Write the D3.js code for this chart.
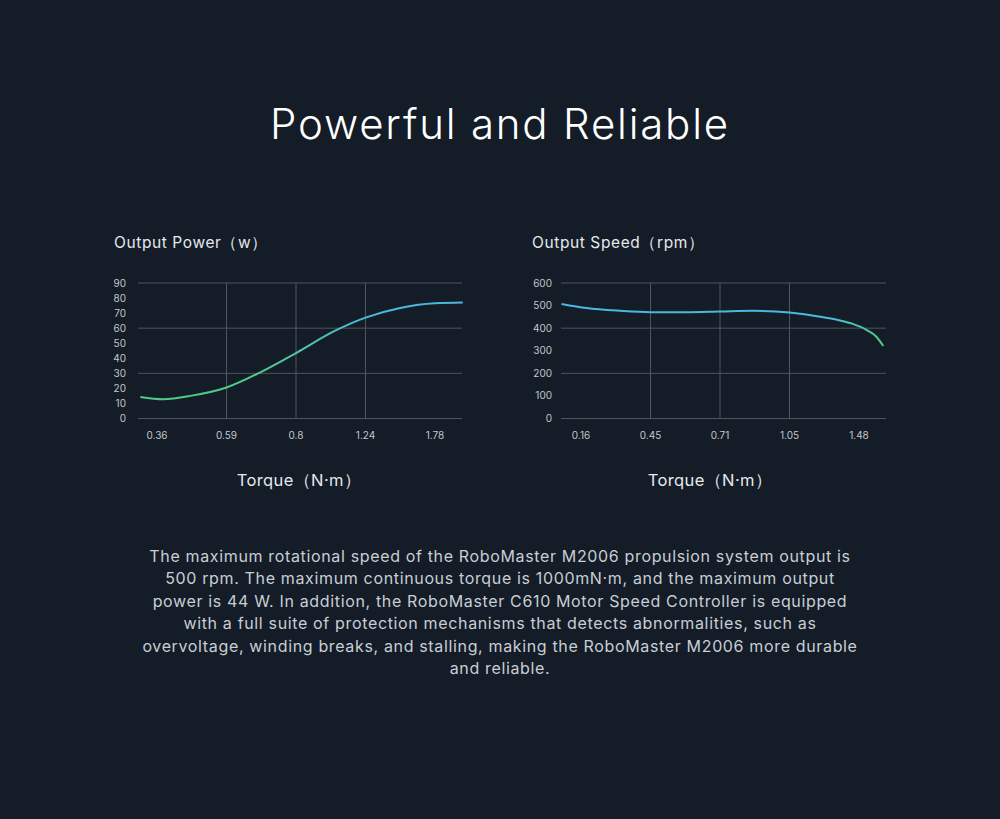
<!DOCTYPE html>
<html><head><meta charset="utf-8">
<script src="https://cdn.jsdelivr.net/npm/d3@7"></script>
<style>
html,body{margin:0;padding:0;background:#131c27;}
svg{display:block;}
</style></head>
<body>
<svg id="c" width="1000" height="819"></svg>
<script>
// ---- data ----
const powerTicks = ["0.36","0.59","0.8","1.24","1.78"];
const powerPos =   [-0.24, 0.09, 0.5, 1.0, 1.5, 2.0, 2.55, 3.0, 3.5, 4.0, 4.4];
const powerVals =  [14.3, 12.8, 15.2, 20.6, 31, 43.5, 58, 67, 73.4, 76.5, 77];
const powerYTicks = [0,10,20,30,40,50,60,70,80,90];
const powerGrid = [0,30,60,90];

const speedTicks = ["0.16","0.45","0.71","1.05","1.48"];
const speedPos =   [-0.28, 0.08, 0.56, 1.0, 1.52, 2.0, 2.48, 3.0, 3.44, 3.7, 3.92, 4.1, 4.25, 4.35];
const speedVals =  [507, 489, 477, 471, 471, 474, 477, 469, 451, 436, 418, 394, 362, 321];
const speedYTicks = [0,100,200,300,400,500,600];
const speedGrid = [0,200,400,600];

const paragraph = [
 "The maximum rotational speed of the RoboMaster M2006 propulsion system output is",
 "500 rpm. The maximum continuous torque is 1000mN·m, and the maximum output",
 "power is 44 W. In addition, the RoboMaster C610 Motor Speed Controller is equipped",
 "with a full suite of protection mechanisms that detects abnormalities, such as",
 "overvoltage, winding breaks, and stalling, making the RoboMaster M2006 more durable",
 "and reliable."
];

const svg = d3.select("#c");
const FONT = "Inter, 'Liberation Sans', sans-serif";
const GREEN = "#4fcb86", BLUE = "#4bb8e2";

svg.append("text").attr("x",500).attr("y",139).attr("text-anchor","middle")
  .attr("font-family",FONT).attr("font-weight",300).attr("font-size",42)
  .attr("letter-spacing",1.8)
  .attr("fill","#ffffff").text("Powerful and Reliable");

const defs = svg.append("defs");

function chart(cfg){
  const g = svg.append("g");
  const x = d3.scaleLinear().domain([0,4]).range([cfg.x0, cfg.x1]);
  const y = d3.scaleLinear().domain([0,cfg.ymax]).range([418.5, 283]);
  g.append("text").attr("x",cfg.tx).attr("y",248).attr("font-family",FONT)
    .attr("font-size",15.5).attr("letter-spacing",0.6).attr("fill","#e6e9ec").text(cfg.title);
  g.selectAll(".hg").data(cfg.grid).join("line")
    .attr("x1",cfg.gx0).attr("x2",cfg.gx1)
    .attr("y1",d=>y(d)).attr("y2",d=>y(d))
    .attr("stroke","#4f565e").attr("stroke-width",1);
  g.selectAll(".vg").data([1,2,3]).join("line")
    .attr("x1",d=>x(d)).attr("x2",d=>x(d))
    .attr("y1",y(cfg.ymax)).attr("y2",y(0))
    .attr("stroke","#4f565e").attr("stroke-width",1);
  g.selectAll(".yt").data(cfg.yticks).join("text")
    .attr("x",cfg.ylx).attr("y",d=>y(d)).attr("dy","0.35em")
    .attr("text-anchor","end").attr("font-family",FONT).attr("font-size",10)
    .attr("fill","#c3c7cb").text(d=>d);
  g.selectAll(".xt").data(cfg.xticks).join("text")
    .attr("x",(d,i)=>x(i)).attr("y",439).attr("text-anchor","middle")
    .attr("font-family",FONT).attr("font-size",10)
    .attr("fill","#c3c7cb").text(d=>d);
  const gid = cfg.id;
  const grad = defs.append("linearGradient").attr("id",gid)
    .attr("gradientUnits","userSpaceOnUse")
    .attr("x1",x(cfg.pos[0])).attr("x2",x(cfg.pos[cfg.pos.length-1])).attr("y1",0).attr("y2",0);
  grad.selectAll("stop").data(cfg.stops).join("stop")
    .attr("offset",d=>d[0]).attr("stop-color",d=>d[1]);
  const line = d3.line().x(d=>x(d[0])).y(d=>y(d[1])).curve(d3.curveMonotoneX);
  g.append("path").datum(cfg.pos.map((p,i)=>[p,cfg.vals[i]]))
    .attr("d",line).attr("fill","none").attr("stroke",`url(#${gid})`)
    .attr("stroke-width",2);
  g.append("text").attr("x",cfg.axx).attr("y",486).attr("text-anchor","middle")
    .attr("font-family",FONT).attr("font-size",16.5).attr("letter-spacing",0.4)
    .attr("fill","#e6e9ec").text("Torque（N·m）");
}

chart({id:"gp", title:"Output Power（w）", tx:114, x0:157, x1:435, gx0:138, gx1:462,
  ymax:90, grid:powerGrid, yticks:powerYTicks, ylx:126, xticks:powerTicks,
  pos:powerPos, vals:powerVals, stops:[[0,GREEN],[0.35,GREEN],[0.75,BLUE],[1,BLUE]], axx:299});
chart({id:"gs", title:"Output Speed（rpm）", tx:532, x0:581, x1:859, gx0:561, gx1:886,
  ymax:600, grid:speedGrid, yticks:speedYTicks, ylx:552, xticks:speedTicks,
  pos:speedPos, vals:speedVals, stops:[[0,BLUE],[0.8,BLUE],[1,GREEN]], axx:710});

svg.append("g").selectAll("text").data(paragraph).join("text")
  .attr("x",500).attr("y",(d,i)=>562+i*22.4).attr("text-anchor","middle")
  .attr("font-family",FONT).attr("font-size",16).attr("letter-spacing",0.65)
  .attr("fill","#c9ced4").text(d=>d);
</script>
</body></html>
